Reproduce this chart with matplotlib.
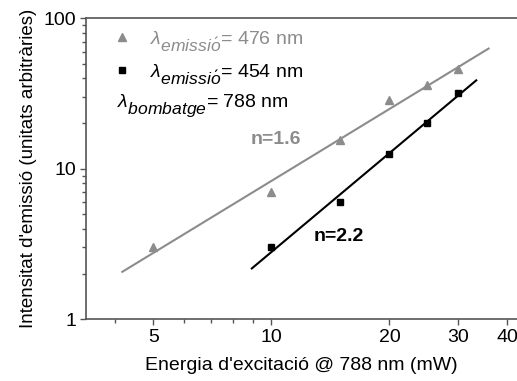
import matplotlib.pyplot as plt
import matplotlib._mathtext as mt
from matplotlib.ticker import FixedLocator, NullFormatter

plt.rcParams['font.family'] = ['Liberation Sans', 'DejaVu Sans']
plt.rcParams['mathtext.fontset'] = 'custom'
plt.rcParams['mathtext.rm'] = 'Liberation Sans'
plt.rcParams['mathtext.it'] = 'Liberation Sans:italic'
# els subindexs de l'original son grans i baixen força
mt.SHRINK_FACTOR = 0.9
mt.FontConstantsBase.sub1 = 0.7

# punts experimentals
power_476 = [5, 10, 15, 20, 25, 30]
intens_476 = [3.0, 7.0, 15.6, 28.5, 36.0, 46.3]
power_454 = [10, 15, 20, 25, 30]
intens_454 = [3.0, 6.0, 12.5, 20.0, 31.9]

# rectes d'ajust (extrems llegits de la figura)
fit_476_x = [4.17, 35.8]
fit_476_y = [2.06, 63.0]
fit_454_x = [8.92, 33.3]
fit_454_y = [2.17, 38.7]

gray = '#8c8c8c'
axcol = '#555555'

fig = plt.figure(figsize=(5.17, 3.81), dpi=100)
ax = fig.add_axes([0.1663, 0.1627, 0.8337, 0.789])

ax.plot(fit_476_x, fit_476_y, color=gray, lw=1.5)
ax.plot(fit_454_x, fit_454_y, color='black', lw=1.5)
h1, = ax.plot(power_476, intens_476, '^', color=gray, ms=5.5, ls='none')
h2, = ax.plot(power_454, intens_454, 's', color='black', ms=5, ls='none')

ax.set_xscale('log')
ax.set_yscale('log')
ax.set_xlim(3.37, 42.3)
ax.set_ylim(1, 100)

ax.xaxis.set_major_locator(FixedLocator([5, 10, 20, 30, 40]))
ax.xaxis.set_minor_locator(FixedLocator([4, 6, 7, 8, 9]))
ax.xaxis.set_major_formatter(plt.FixedFormatter(['5', '10', '20', '30', '40']))
ax.xaxis.set_minor_formatter(NullFormatter())
ax.yaxis.set_major_locator(FixedLocator([1, 10, 100]))
ax.yaxis.set_major_formatter(plt.FixedFormatter(['1', '10', '100']))

for s in ['left', 'bottom', 'top']:
    ax.spines[s].set_color(axcol)
    ax.spines[s].set_linewidth(1.2)
ax.spines['right'].set_visible(False)
ax.tick_params(which='both', direction='out', color=axcol, width=1,
               labelsize=14, pad=3)
ax.tick_params(which='major', length=4)
ax.tick_params(which='minor', length=3)

ax.set_xlabel("Energia d'excitació @ 788 nm (mW)", fontsize=14, labelpad=8)
ax.set_ylabel("Intensitat d'emissió (unitats arbitràries)", fontsize=13.5, labelpad=5)

leg = ax.legend([h1, h2],
                [r'$\lambda_{emissi\acute{o}}$= 476 nm',
                 r'$\lambda_{emissi\acute{o}}$= 454 nm'],
                loc='upper left', frameon=False, fontsize=14,
                handlelength=1.0, handletextpad=0.95, labelspacing=0.45,
                borderaxespad=0.0, bbox_to_anchor=(0.043, 0.99))
leg.get_texts()[0].set_color(gray)
ax.text(0.072, 0.704, r'$\lambda_{bombatge}$= 788 nm', transform=ax.transAxes,
        fontsize=14, va='baseline', ha='left')

ax.text(10.25, 15.6, 'n=1.6', color=gray, fontsize=14, fontweight='bold',
        ha='center', va='center')
ax.text(14.9, 3.56, 'n=2.2', color='black', fontsize=14, fontweight='bold',
        ha='center', va='center')

fig.savefig('out.png', dpi=100)
